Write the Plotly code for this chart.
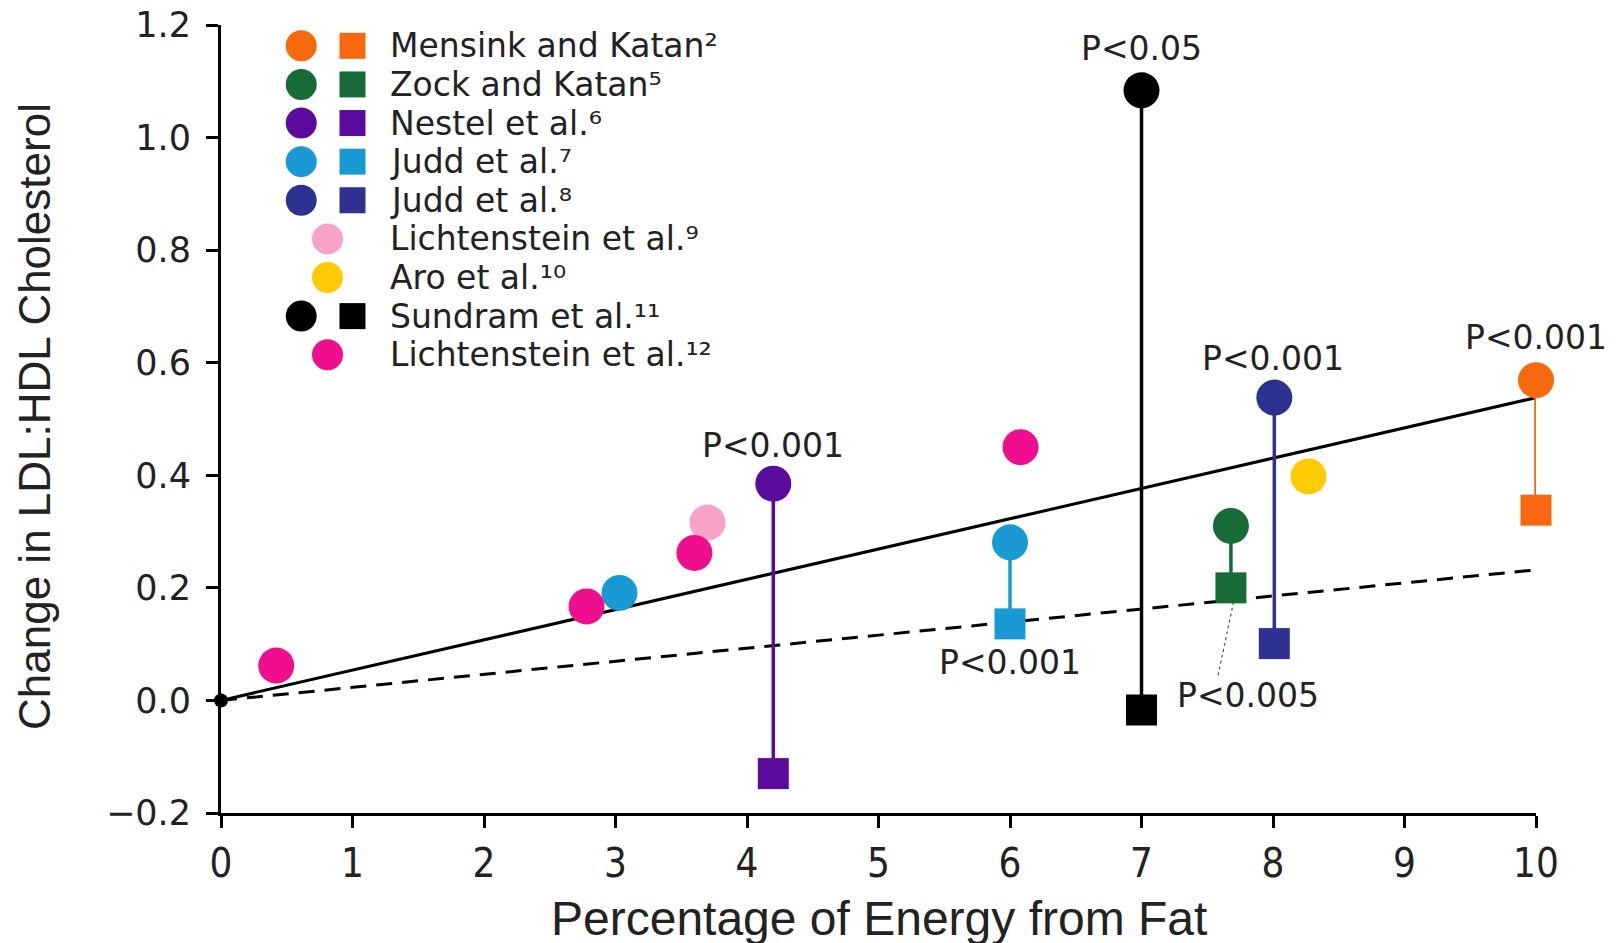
import plotly.graph_objects as go

# ---------------- data ----------------
studies = ["Mensink and Katan", "Zock and Katan", "Nestel et al.", "Judd et al.",
           "Judd et al.", "Lichtenstein et al.", "Aro et al.", "Sundram et al.",
           "Lichtenstein et al."]
refs = ["²", "⁵", "⁶", "⁷", "⁸", "⁹", "¹⁰", "¹¹", "¹²"]
colors = ["#F7680F", "#166B36", "#5A0A9C", "#1A9AD4", "#2E3192",
          "#F7A2C9", "#FFCB05", "#000000", "#EE0E8E"]
has_square = [True, True, True, True, True, False, False, True, False]

# paired comparisons: (x, circle y, square y, p label)
pair_x = [10.0, 7.68, 4.20, 6.0, 8.01, 7.0]
pair_circle = [0.569, 0.310, 0.385, 0.281, 0.538, 1.084]
pair_square = [0.338, 0.200, -0.130, 0.136, 0.101, -0.017]
pair_idx = [0, 1, 2, 3, 4, 7]
pair_p = ["P<0.001", "P<0.005", "P<0.001", "P<0.001", "P<0.001", "P<0.05"]

# single points (study index, x, y)
single_idx = [3, 5, 6, 8, 8, 8, 8]
single_x = [3.03, 3.70, 8.27, 0.42, 2.78, 3.60, 6.08]
single_y = [0.191, 0.316, 0.398, 0.062, 0.167, 0.262, 0.450]

# regression lines
reg_x = [0, 10]
reg_solid = [0, 0.538]
reg_dashed = [0, 0.232]

x_ticks = list(range(0, 11))
y_ticks = [-0.2, 0.0, 0.2, 0.4, 0.6, 0.8, 1.0, 1.2]

TXT = "#222222"

# ---------------- figure ----------------
fig = go.Figure()
fig.add_trace(go.Scatter(x=reg_x, y=reg_solid, mode="lines", cliponaxis=False,
                         line=dict(color="black", width=3), showlegend=False))
fig.add_trace(go.Scatter(x=reg_x, y=reg_dashed, mode="lines", cliponaxis=False,
                         line=dict(color="black", width=3, dash="16px,10px"),
                         showlegend=False))
fig.add_trace(go.Scatter(x=[0], y=[0], mode="markers", cliponaxis=False,
                         marker=dict(color="black", size=14), showlegend=False))

# connectors
for k, i in enumerate(pair_idx):
    fig.add_trace(go.Scatter(x=[pair_x[k], pair_x[k]], y=[pair_circle[k], pair_square[k]],
                             mode="lines", cliponaxis=False,
                             line=dict(color=colors[i], width=3.5), showlegend=False))
# leader line for P<0.005
fig.add_trace(go.Scatter(x=[7.70, 7.58], y=[0.175, 0.042], mode="lines",
                         line=dict(color="#555555", width=1.2, dash="dot"),
                         showlegend=False))

# squares and circles
for k, i in enumerate(pair_idx):
    fig.add_trace(go.Scatter(x=[pair_x[k]], y=[pair_square[k]], mode="markers",
                             cliponaxis=False,
                             marker=dict(symbol="square", color=colors[i], size=31),
                             showlegend=False))
    fig.add_trace(go.Scatter(x=[pair_x[k]], y=[pair_circle[k]], mode="markers",
                             cliponaxis=False,
                             marker=dict(symbol="circle", color=colors[i], size=36),
                             showlegend=False))
for k, i in enumerate(single_idx):
    fig.add_trace(go.Scatter(x=[single_x[k]], y=[single_y[k]], mode="markers",
                             cliponaxis=False,
                             marker=dict(symbol="circle", color=colors[i], size=36),
                             showlegend=False))

# P-value labels
p_pos = [(10.0, 0.645), (7.81, 0.009), (4.20, 0.453), (6.0, 0.068),
         (8.0, 0.607), (7.0, 1.159)]
for k in range(len(pair_x)):
    px, py = p_pos[k]
    fig.add_annotation(x=px, y=py, text=pair_p[k], showarrow=False,
                       font=dict(family="DejaVu Sans", size=33, color=TXT),
                       xanchor="center", yanchor="middle")

# manual legend
LEG_Y0, LEG_DY = 1.163, 0.0686
CIRC_X, SQ_X, SINGLE_X, TEXT_X = 0.61, 1.0, 0.81, 1.27
for i, name in enumerate(studies):
    ly = LEG_Y0 - i * LEG_DY
    if has_square[i]:
        fig.add_trace(go.Scatter(x=[CIRC_X], y=[ly], mode="markers", cliponaxis=False,
                                 marker=dict(symbol="circle", color=colors[i], size=31),
                                 showlegend=False))
        fig.add_trace(go.Scatter(x=[SQ_X], y=[ly], mode="markers", cliponaxis=False,
                                 marker=dict(symbol="square", color=colors[i], size=26),
                                 showlegend=False))
    else:
        fig.add_trace(go.Scatter(x=[SINGLE_X], y=[ly], mode="markers", cliponaxis=False,
                                 marker=dict(symbol="circle", color=colors[i], size=31),
                                 showlegend=False))
    fig.add_annotation(x=TEXT_X, y=ly, text=f"{name}{refs[i]}",
                       showarrow=False, xanchor="left", yanchor="middle",
                       font=dict(family="DejaVu Sans", size=33, color=TXT))

# axis titles
fig.add_annotation(xref="paper", yref="paper", x=0.5, y=0, yshift=-105,
                   text="Percentage of Energy from Fat", showarrow=False,
                   font=dict(family="Liberation Sans, Arial", size=48, color=TXT),
                   xanchor="center", yanchor="middle")
fig.add_annotation(xref="paper", yref="paper", x=0, xshift=-187, y=0.5, yshift=2,
                   text="Change in LDL:HDL Cholesterol", textangle=-90, showarrow=False,
                   font=dict(family="Liberation Sans, Arial", size=44, color=TXT),
                   xanchor="center", yanchor="middle")

fig.update_layout(
    width=1621, height=943,
    margin=dict(l=213, r=93, t=17, b=138),
    paper_bgcolor="white", plot_bgcolor="white",
    showlegend=False,
    xaxis=dict(range=[0, 10], tickvals=x_ticks, ticktext=[str(t) for t in x_ticks],
               showgrid=False, zeroline=False, showline=True, linecolor="black",
               linewidth=3, ticks="outside", ticklen=12, tickwidth=2.5, tickcolor="black",
               tickfont=dict(family="Liberation Sans Narrow, DejaVu Sans Condensed",
                             size=40, color=TXT),
               ticklabelstandoff=1, ticklabeloverflow="allow", automargin=False),
    yaxis=dict(range=[-0.2, 1.2], tickvals=y_ticks,
               ticktext=["\u22120.2", "0.0", "0.2", "0.4", "0.6", "0.8", "1.0", "1.2"],
               showgrid=False, zeroline=False, showline=True, linecolor="black",
               linewidth=3, ticks="outside", ticklen=12, tickwidth=2.5, tickcolor="black",
               tickfont=dict(family="DejaVu Sans", size=35, color=TXT),
               ticklabelstandoff=8, ticklabeloverflow="allow", automargin=False),
)

fig.write_html("out.html")
